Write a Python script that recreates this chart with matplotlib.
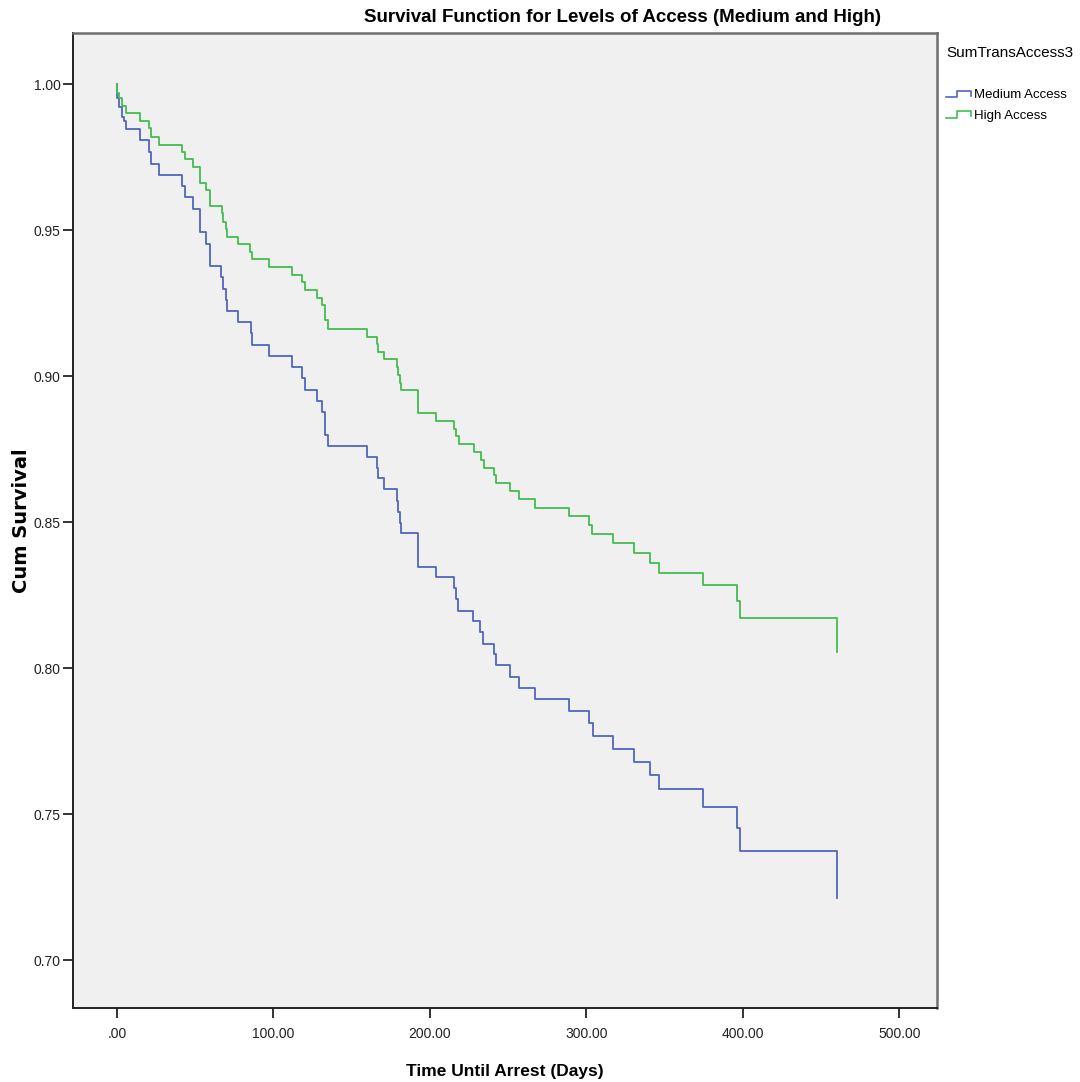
import numpy as np
import matplotlib
matplotlib.use("Agg")
import matplotlib.pyplot as plt
from matplotlib.lines import Line2D
from matplotlib.legend_handler import HandlerLine2D
import matplotlib.ticker as ticker

# ---- data (time in days, cumulative survival) ----
medium_t = [0, 0.1, 1.0, 3.0, 4.5, 5.8, 14.7, 20.7, 21.5, 26.8,
            41.3, 43.5, 48.8, 53.2, 56.7, 59.4, 66.2, 67.5, 69.4, 70.1,
            77.5, 85.4, 86.5, 97.1, 112.0, 118.0, 119.9, 128.0, 130.8, 132.9,
            135.0, 159.5, 165.9, 167.0, 170.8, 178.7, 179.8, 180.8, 181.5, 192.5,
            203.6, 215.3, 216.5, 218.1, 227.7, 231.9, 234.1, 241.1, 242.2, 251.1,
            257.1, 267.1, 288.8, 301.8, 304.0, 316.7, 330.6, 340.6, 346.5, 374.4,
            396.4, 398.1, 459.8]
medium_s = [1.0, 0.9951, 0.9922, 0.9886, 0.9873, 0.9846, 0.9808, 0.9768, 0.9726, 0.9688,
            0.9651, 0.9612, 0.9572, 0.9494, 0.9454, 0.9377, 0.9340, 0.9300, 0.9260, 0.9224,
            0.9184, 0.9146, 0.9106, 0.9070, 0.9030, 0.8992, 0.8952, 0.8914, 0.8876, 0.8800,
            0.8761, 0.8724, 0.8687, 0.8650, 0.8612, 0.8573, 0.8535, 0.8498, 0.8461, 0.8347,
            0.8313, 0.8275, 0.8237, 0.8196, 0.8161, 0.8122, 0.8084, 0.8048, 0.8010, 0.7970,
            0.7933, 0.7894, 0.7853, 0.7811, 0.7767, 0.7723, 0.7679, 0.7633, 0.7585, 0.7525,
            0.7453, 0.7374, 0.7211]

high_t = [0, 0.1, 1.0, 3.0, 5.8, 14.7, 20.7, 21.5, 26.8, 41.3,
          43.5, 48.8, 53.2, 56.7, 59.4, 66.9, 67.9, 69.4, 70.1, 77.5,
          85.0, 86.5, 97.1, 112.0, 118.0, 119.9, 128.0, 130.8, 132.9, 135.0,
          159.5, 165.9, 167.0, 170.8, 178.7, 179.8, 180.8, 181.5, 192.5, 203.6,
          215.3, 216.4, 218.5, 228.1, 232.6, 234.5, 241.1, 242.2, 251.1, 256.9,
          267.1, 288.8, 301.7, 303.8, 316.7, 330.6, 340.6, 346.5, 374.4, 396.4,
          398.1, 459.8]
high_s = [1.0, 0.9969, 0.9951, 0.9925, 0.9900, 0.9873, 0.9848, 0.9820, 0.9793, 0.9768,
          0.9743, 0.9715, 0.9662, 0.9637, 0.9583, 0.9557, 0.9528, 0.9503, 0.9477, 0.9452,
          0.9426, 0.9400, 0.9372, 0.9346, 0.9323, 0.9295, 0.9268, 0.9243, 0.9191, 0.9163,
          0.9135, 0.9110, 0.9083, 0.9057, 0.9030, 0.9003, 0.8977, 0.8952, 0.8872, 0.8847,
          0.8820, 0.8795, 0.8767, 0.8741, 0.8713, 0.8686, 0.8660, 0.8634, 0.8607, 0.8578,
          0.8550, 0.8520, 0.8490, 0.8458, 0.8427, 0.8395, 0.8361, 0.8324, 0.8283, 0.8230,
          0.8172, 0.8056]

series_labels = ["Medium Access", "High Access"]
x_ticks = [0, 100, 200, 300, 400, 500]
y_ticks = [0.70, 0.75, 0.80, 0.85, 0.90, 0.95, 1.00]

BLUE = "#4f66bd"
GREEN = "#44bd52"
FONT = "Liberation Sans"   # Arial-like


class StepHandler(HandlerLine2D):
    """little step icon like SPSS legend"""
    def create_artists(self, legend, orig_handle, xdescent, ydescent,
                       width, height, fontsize, trans):
        xs = np.array([0, 0.45, 0.45, 1.0, 1.0]) * width - xdescent
        ys = np.array([0.1, 0.1, 0.85, 0.85, 0.3]) * height - ydescent
        ln = Line2D(xs, ys, color=orig_handle.get_color(), lw=1.2)
        ln.set_transform(trans)
        return [ln]


fig = plt.figure(figsize=(10.8, 10.82), dpi=100, facecolor="white")
ax = fig.add_axes([73 / 1080, 1 - 1008 / 1082, (937 - 73) / 1080, (1008 - 33) / 1082])
ax.set_facecolor("#f0f0f0")

l1, = ax.step(medium_t, medium_s, where="post", color=BLUE, lw=1.3, label=series_labels[0])
l2, = ax.step(high_t, high_s, where="post", color=GREEN, lw=1.3, label=series_labels[1])

ax.set_xlim(-28.1, 524)
ax.set_ylim(0.6836, 1.0175)

ax.set_xticks(x_ticks)
ax.set_yticks(y_ticks)
ax.xaxis.set_major_formatter(ticker.FuncFormatter(
    lambda v, p: ("%.2f" % v).lstrip("0") if v < 1 else "%.2f" % v))
ax.yaxis.set_major_formatter(ticker.FormatStrFormatter("%.2f"))
ax.tick_params(axis="both", direction="out", length=7, width=1.3, color="#222222",
               labelsize=10, labelcolor="#222222")
ax.tick_params(axis="x", pad=7)
ax.tick_params(axis="y", pad=2)
for lab in ax.get_xticklabels() + ax.get_yticklabels():
    lab.set_fontfamily(FONT)

for side in ["left", "bottom"]:
    ax.spines[side].set_color("#222222")
    ax.spines[side].set_linewidth(1.4)
for side in ["top", "right"]:
    ax.spines[side].set_color("#6e6e6e")
    ax.spines[side].set_linewidth(1.8)

ax.set_xlabel("Time Until Arrest (Days)", fontsize=12.5, fontweight="bold",
              family=FONT, labelpad=16)
ax.set_ylabel("Cum Survival", fontsize=14, fontweight="bold", family="DejaVu Sans")
ax.yaxis.set_label_coords(-0.049, 0.5)

fig.text(622 / 1080, 1 - 18 / 1082,
         "Survival Function for Levels of Access (Medium and High)",
         ha="center", va="center", fontsize=13.5, fontweight="bold", family=FONT)

leg = fig.legend(handles=[l1, l2], labels=series_labels,
                 handler_map={Line2D: StepHandler()},
                 loc="upper left", bbox_to_anchor=(946 / 1080, 1 - 46 / 1082),
                 frameon=False, title="SumTransAccess3",
                 prop={"family": FONT, "size": 9.5},
                 handlelength=1.9, handletextpad=0.2, labelspacing=0.65,
                 alignment="left", borderaxespad=0, borderpad=0)
leg.get_title().set_fontfamily(FONT)
leg.get_title().set_fontsize(11)
leg._legend_box.sep = 21

fig.savefig("out.png", dpi=100, facecolor="white")
